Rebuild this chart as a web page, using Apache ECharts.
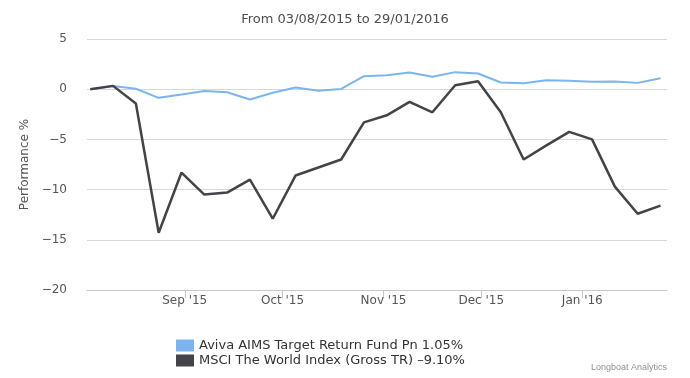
<!DOCTYPE html>
<html>
<head>
<meta charset="utf-8">
<script src="https://cdn.jsdelivr.net/npm/echarts@6/dist/echarts.min.js"></script>
<style>
  html, body { margin: 0; padding: 0; background: #fff; }
  #main { width: 690px; height: 378px; }
</style>
</head>
<body>
<div id="main"></div>
<script>
// weekly dates
var dates = ['2015-08-03', '2015-08-10', '2015-08-17', '2015-08-24', '2015-08-31', '2015-09-07',
  '2015-09-14', '2015-09-21', '2015-09-28', '2015-10-05', '2015-10-12', '2015-10-19', '2015-10-26',
  '2015-11-02', '2015-11-09', '2015-11-16', '2015-11-23', '2015-11-30', '2015-12-07', '2015-12-14',
  '2015-12-21', '2015-12-28', '2016-01-04', '2016-01-11', '2016-01-18', '2016-01-25']

var avivaName = 'Aviva AIMS Target Return Fund Pn 1.05%'
var avivaValues = [0, 0.33, 0.05, -0.86, -0.53, -0.17, -0.3, -1.03, -0.35, 0.17, -0.15, 0.03, 1.3,
  1.38, 1.66, 1.23, 1.7, 1.56, 0.67, 0.6, 0.9, 0.85, 0.73, 0.77, 0.63, 1.1]

var msciName = 'MSCI The World Index (Gross TR) \u20139.10%'
var msciValues = [0, 0.33, -1.43, -14.3, -8.3, -10.5, -10.3, -9.0, -12.9, -8.6, -7.8, -7.0, -3.3,
  -2.6, -1.26, -2.3, 0.4, 0.8, -2.3, -7.0, -5.6, -4.25, -5.0, -9.7, -12.4, -11.6]

var monthTicks = ['2015-09-01', '2015-10-01', '2015-11-01', '2015-12-01', '2016-01-01']
var monthNames = ['Jan', 'Feb', 'Mar', 'Apr', 'May', 'Jun', 'Jul', 'Aug', 'Sep', 'Oct', 'Nov', 'Dec']

function ts(s) { return Date.parse(s + 'T00:00:00Z') }

function pairs(vals) {
  return vals.map(function (v, i) { return [ts(dates[i]), v] })
}

var tickTs = monthTicks.map(ts)

var chart = echarts.init(document.getElementById('main'))
var font = 'DejaVu Sans'

var option = {
  animation: false,
  textStyle: { fontFamily: font },
  title: {
    text: 'From 03/08/2015 to 29/01/2016',
    left: 'center',
    top: 8,
    textStyle: { fontSize: 13, fontWeight: 'normal', color: '#4d4d4d', fontFamily: font }
  },
  graphic: [{
    type: 'text',
    right: 23,
    top: 363,
    style: { text: 'Longboat Analytics', fontSize: 9, fill: '#909090', fontFamily: 'Liberation Sans' }
  }],
  legend: {
    orient: 'vertical',
    left: 171,
    top: 334,
    itemWidth: 18,
    itemHeight: 12,
    itemGap: 2,
    icon: 'rect',
    textStyle: { fontSize: 13, color: '#333', fontFamily: font },
    data: [avivaName, msciName]
  },
  grid: { left: 87, right: 23, top: 39, bottom: 88 },
  xAxis: {
    type: 'value',
    min: ts('2015-08-02'),
    max: ts('2016-01-27'),
    axisLine: { show: true, onZero: false, lineStyle: { color: '#c8c8c8' } },
    axisTick: { show: true, length: 8, lineStyle: { color: '#c8c8c8' }, customValues: tickTs },
    axisLabel: {
      customValues: tickTs,
      fontSize: 12,
      color: '#555',
      margin: 5,
      formatter: function (val) {
        var d = new Date(val)
        return monthNames[d.getUTCMonth()] + " '" + String(d.getUTCFullYear()).slice(2)
      }
    },
    splitLine: { show: false }
  },
  yAxis: {
    type: 'value',
    min: -20,
    max: 5,
    interval: 5,
    name: 'Performance %',
    nameLocation: 'middle',
    nameGap: 55,
    nameTextStyle: { fontSize: 12, color: '#555', fontFamily: font },
    axisLine: { show: false },
    axisTick: { show: false },
    axisLabel: {
      fontSize: 12,
      color: '#555',
      margin: 20,
      formatter: function (v) { return String(v).replace('-', '\u2212') }
    },
    splitLine: { lineStyle: { color: '#d8d8d8' } }
  },
  series: [
    {
      name: avivaName,
      type: 'line',
      data: pairs(avivaValues),
      showSymbol: false,
      color: '#7cb5ec',
      lineStyle: { width: 2 }
    },
    {
      name: msciName,
      type: 'line',
      data: pairs(msciValues),
      showSymbol: false,
      color: '#434348',
      lineStyle: { width: 2.5 }
    }
  ]
}
chart.setOption(option)
</script>
</body>
</html>
